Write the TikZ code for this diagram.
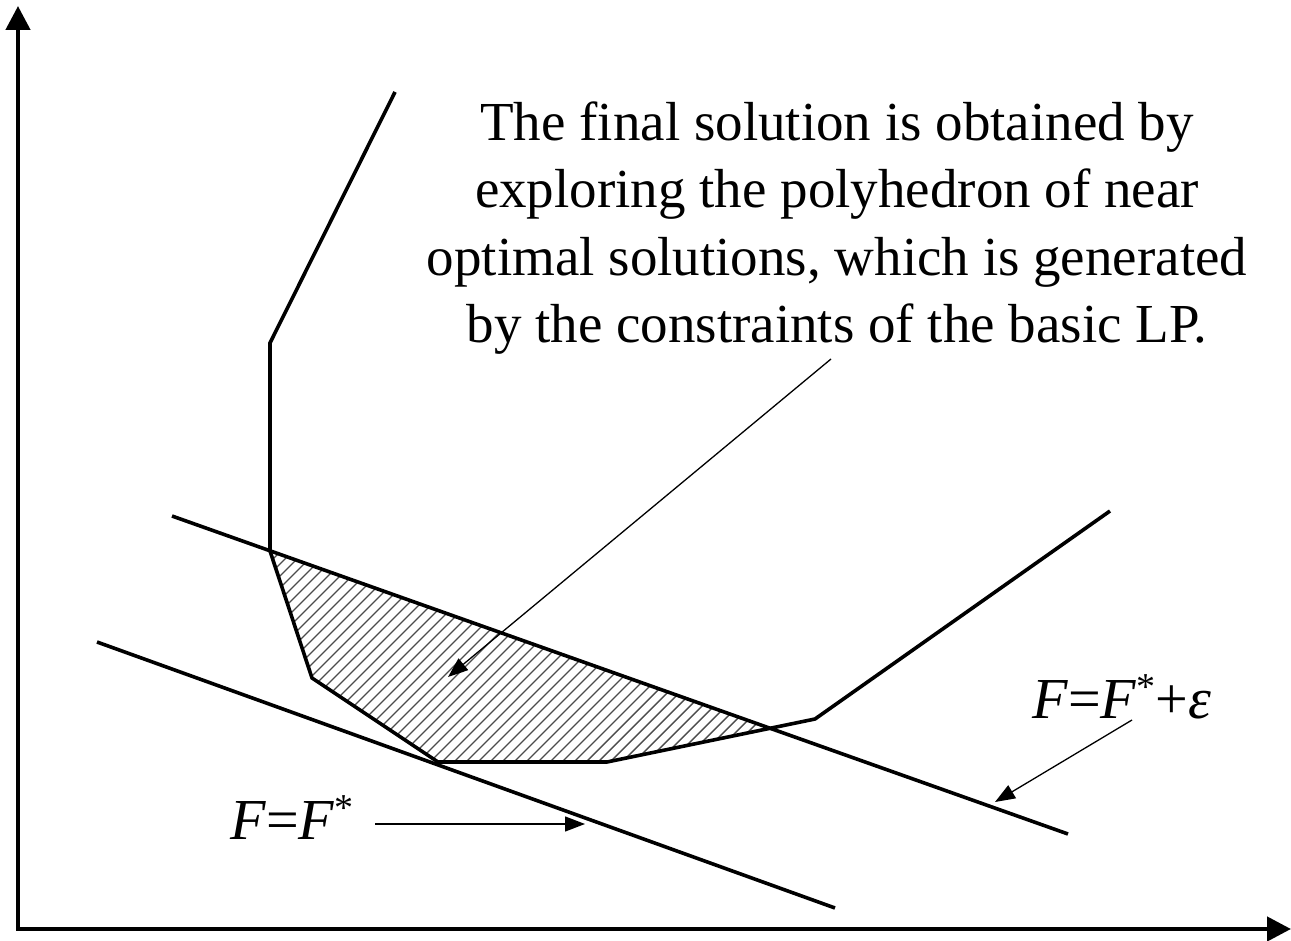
\documentclass[tikz,border=0pt]{standalone}
\usepackage{fontspec}
\setmainfont{Liberation Serif}
\usetikzlibrary{arrows.meta}
\newcommand{\starsup}{\raisebox{0.32em}{\fontsize{38}{38}\selectfont *}}
\begin{document}
\begin{tikzpicture}[x=1pt,y=-1pt,
  thickline/.style={line width=3.6pt,line join=miter},
  axisline/.style={line width=4.5pt},
  callout/.style={line width=1.3pt,-{Triangle[length=20pt,width=15pt]}},
  hatchline/.style={line width=1.4pt,black!70},
  lbl/.style={inner sep=0pt,anchor=base west,font=\fontsize{58}{67}\selectfont}]
\useasboundingbox (0,0) rectangle (1291,941);
% axes
\coordinate (top) at (18,6);
\coordinate (orig) at (18,929);
\coordinate (right) at (1291,929);
\draw[axisline,{Triangle[length=24pt,width=24pt]}-{Triangle[length=24pt,width=24pt]}] (top) -- (orig) -- (right);
% polygon points
\coordinate (c1) at (395,92);
\coordinate (c2) at (270,343);
\coordinate (c3) at (270,551);
\coordinate (c4) at (312,678);
\coordinate (c5) at (438,762);
\coordinate (c6) at (607,762);
\coordinate (c7) at (815,719);
\coordinate (c8) at (1110,511);
\coordinate (x1) at (770,728);
% hatched region
\begin{scope}
\clip (c3) -- (c4) -- (c5) -- (c6) -- (x1) -- cycle;
\foreach \k in {0,...,62} \draw[hatchline] (\k*12,820) -- ++(500,-500);
\end{scope}
% constraint curve
\draw[thickline] (c1) -- (c2) -- (c3) -- (c4) -- (c5) -- (c6) -- (c7) -- (c8);
% objective lines
\coordinate (u1) at (172,516);
\coordinate (u2) at (1068,834);
\coordinate (l1) at (97,642);
\coordinate (l2) at (835,908);
\draw[thickline] (u1) -- (u2);
\draw[thickline] (l1) -- (l2);
% main text
\node[inner sep=0pt,align=center,font=\fontsize{55}{67.5}\selectfont] (txt) at (837,228)
 {The final solution is obtained by\\exploring the polyhedron of near\\optimal solutions, which is generated\\by the constraints of the basic LP.};
\coordinate (a1s) at (831,359);
\coordinate (a1e) at (448,677);
\draw[callout] (a1s) -- (a1e);
% labels
\node[lbl] (feps) at (1032,718) {\textit{F}=\textit{F}\starsup+\textit{ε}};
\coordinate (a2s) at (1132,720);
\coordinate (a2e) at (995,802);
\draw[callout] (a2s) -- (a2e);
\node[lbl] (fstar) at (230,839) {\textit{F}=\textit{F}\starsup};
\coordinate (a3s) at (375,824);
\coordinate (a3e) at (585,824);
\draw[callout] (a3s) -- (a3e);
\end{tikzpicture}
\end{document}
